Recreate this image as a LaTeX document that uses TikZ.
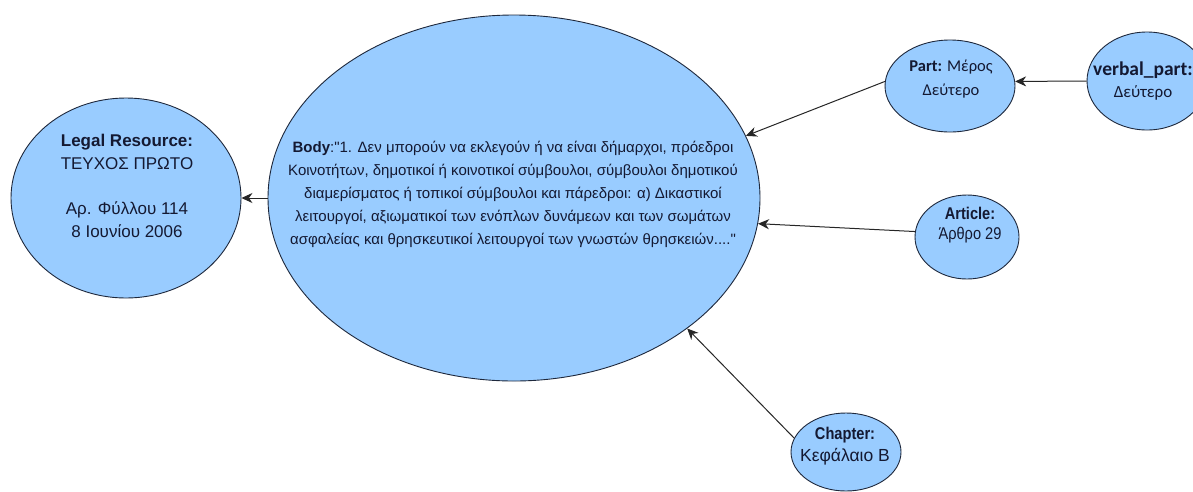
\documentclass[tikz,border=0pt]{standalone}
\usepackage{fontspec}
\setmainfont{Liberation Sans}[Ligatures=TeXOff]
\newfontfamily\narrowsans[FakeStretch=0.86]{Liberation Sans}
\newfontfamily\calib{Carlito}
\usetikzlibrary{shapes.geometric,arrows.meta}
\definecolor{nodefill}{RGB}{153,204,255}
\definecolor{nodeline}{RGB}{30,40,60}
\definecolor{inkc}{RGB}{20,25,50}

\begin{document}
\begin{tikzpicture}[x=1pt,y=-1pt,
  blob/.style={ellipse,draw=nodeline,fill=nodefill,line width=0.9pt,inner sep=0pt},
  caption/.style={align=center,text=inkc,inner sep=0pt},
  link/.style={draw=black!85,line width=1pt,-{Stealth[length=11pt,width=10pt,inset=3.5pt]}}]
\useasboundingbox (0,0) rectangle (1193,491);
\fill[white] (0,0) rectangle (1193,491);
\clip (0,0) rectangle (1193,491);

% ellipses
\node[blob,minimum width=230pt,minimum height=200pt] (legal) at (126,198) {};
\node[blob,minimum width=492pt,minimum height=366pt] (body) at (514,198) {};
\node[blob,minimum width=130pt,minimum height=92pt] (part) at (950,86) {};
\node[blob,minimum width=120pt,minimum height=98pt] (verbal) at (1147,81) {};
\node[blob,minimum width=104pt,minimum height=84pt] (article) at (967,237) {};
\node[blob,minimum width=110pt,minimum height=78pt] (chapter) at (846,452) {};

% texts
\node[caption,font=\fontsize{17}{23}\selectfont] (legaltxt) at (127,186)
  {\textbf{Legal Resource:}\\ΤΕΥΧΟΣ ΠΡΩΤΟ\\[22pt]Αρ. Φύλλου 114\\8 Ιουνίου 2006};
\node[caption,font=\fontsize{15}{23}\selectfont] (bodytxt) at (513,194)
  {\textbf{Body}:"1. Δεν μπορούν να εκλεγούν ή να είναι δήμαρχοι, πρόεδροι\\
   Κοινοτήτων, δημοτικοί ή κοινοτικοί σύμβουλοι, σύμβουλοι δημοτικού\\
   διαμερίσματος ή τοπικοί σύμβουλοι και πάρεδροι: α) Δικαστικοί\\
   λειτουργοί, αξιωματικοί των ενόπλων δυνάμεων και των σωμάτων\\
   ασφαλείας και θρησκευτικοί λειτουργοί των γνωστών θρησκειών...."};
\node[caption,font=\calib\fontsize{16.5}{24}\selectfont] (parttxt) at (951,79)
  {\textbf{Part:} Μέρος\\Δεύτερο};
\node[caption,font=\calib\fontsize{17}{22}\selectfont] (verbaltxt) at (1143,81)
  {{\fontsize{19.5}{22}\selectfont\textbf{verbal\_part:}}\\Δεύτερο};
\node[caption,font=\narrowsans\fontsize{17}{20}\selectfont] (articletxt) at (970,225)
  {\textbf{Article:}\\Άρθρο 29};
\node[caption,font=\narrowsans\fontsize{17}{22}\selectfont] (chaptertxt) at (845,446)
  {\textbf{Chapter:}\\{\rmfamily\fontsize{17.5}{22}\selectfont Κεφάλαιο Β}};

% connectors
\draw[link] (body.180) -- (legal.0);
\draw[link] (part.176) -- (body.15.3);
\draw[link] (article.174) -- (body.-6.1);
\draw[link] (chapter.165) -- (body.-37);
\draw[link] (verbal.180) -- (part.4);
\end{tikzpicture}
\end{document}
